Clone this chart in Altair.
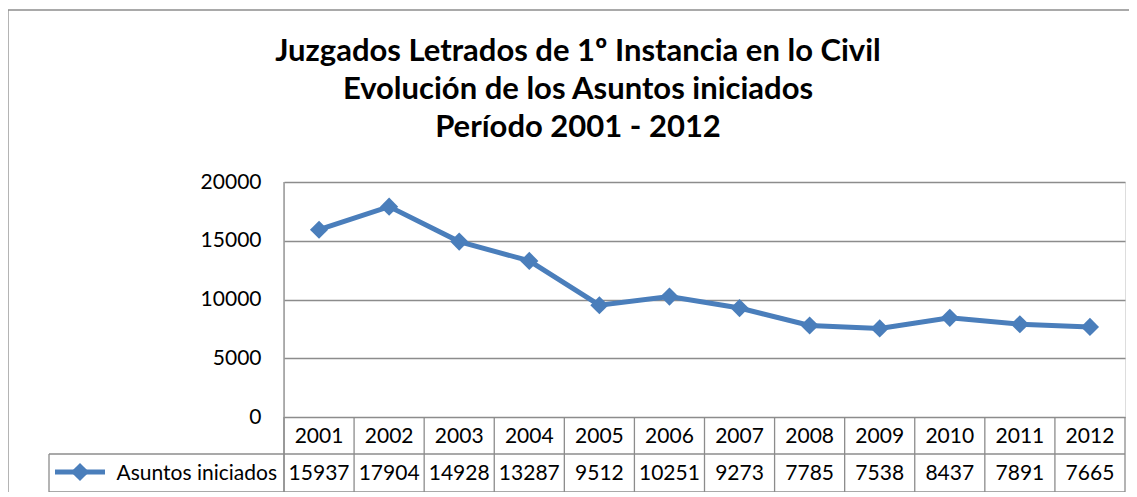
import altair as alt
import pandas as pd

years = ["2001", "2002", "2003", "2004", "2005", "2006", "2007", "2008", "2009", "2010", "2011", "2012"]
values = [15937, 17904, 14928, 13287, 9512, 10251, 9273, 7785, 7538, 8437, 7891, 7665]
series_name = "Asuntos iniciados"
title_lines = ["Juzgados Letrados de 1º Instancia en lo Civil",
               "Evolución de los Asuntos iniciados",
               "Período 2001 - 2012"]
y_ticks = [0, 5000, 10000, 15000, 20000]

df = pd.DataFrame({"year": years, "value": values})

W, H = 841, 235
BLUE = "#4a7ebb"
GRID = "#8c8c8c"
FONT = "Lato"
FS = 21

xenc = alt.X("year:O", scale=alt.Scale(paddingInner=0, paddingOuter=0), axis=None, sort=years)
yenc = alt.Y("value:Q", scale=alt.Scale(domain=[0, 20000], nice=False),
             axis=alt.Axis(values=y_ticks, format="d", grid=True, gridColor=GRID, gridWidth=1.3,
                           domain=False, ticks=False, labelPadding=23, labelFontSize=FS,
                           labelFont=FONT, labelColor="#000000", title=None))

base = alt.Chart(df)
one = alt.InlineData(values=[{"k": 1}])

line = base.mark_line(color=BLUE, strokeWidth=5).encode(x=xenc, y=yenc)
pts = base.mark_point(shape="diamond", filled=True, size=330, color=BLUE, opacity=1).encode(x=xenc, y="value:Q")

year_txt = base.mark_text(fontSize=FS, font=FONT, color="#000000", baseline="middle").encode(
    x=xenc, y=alt.value(255), text="year:N")
val_txt = base.mark_text(fontSize=FS, font=FONT, color="#000000", baseline="middle").encode(
    x=xenc, y=alt.value(292), text="value:Q")

vlines = base.mark_rule(color=GRID, strokeWidth=1.3).encode(
    x=alt.X("year:O", bandPosition=0, scale=alt.Scale(paddingInner=0, paddingOuter=0), axis=None, sort=years),
    y=alt.value(235), y2=alt.value(310))

def rule(**kw):
    return alt.Chart(one).mark_rule(color=GRID, strokeWidth=1.3).encode(**kw)

right_edge = rule(x=alt.value(W), y=alt.value(235), y2=alt.value(310))
left_edge = rule(x=alt.value(0), y=alt.value(0), y2=alt.value(310))
h1 = rule(x=alt.value(-235), x2=alt.value(W), y=alt.value(272))
h2 = rule(x=alt.value(-235), x2=alt.value(W), y=alt.value(310))
legend_left = rule(x=alt.value(-235), y=alt.value(272), y2=alt.value(310))
outer_top = rule(x=alt.value(-276), x2=alt.value(900), y=alt.value(-172))
outer_left = rule(x=alt.value(-276), y=alt.value(-172), y2=alt.value(400))

leg_line = alt.Chart(one).mark_rule(color=BLUE, strokeWidth=5).encode(
    x=alt.value(-229), x2=alt.value(-179), y=alt.value(290))
leg_pt = alt.Chart(one).mark_point(shape="diamond", filled=True, size=330, color=BLUE, opacity=1).encode(
    x=alt.value(-204), y=alt.value(290))
leg_txt = alt.Chart(pd.DataFrame({"name": [series_name]})).mark_text(
    fontSize=FS, font=FONT, color="#000000", align="right", baseline="middle").encode(
    x=alt.value(-7), y=alt.value(292), text="name:N")

title = alt.Chart(one).mark_text(
    fontSize=31, font=FONT, fontWeight="bold", color="#000000", align="center",
    baseline="alphabetic", lineHeight=38).encode(
    x=alt.value(294), y=alt.value(-121), text=alt.value(title_lines))

chart = alt.layer(
    vlines, right_edge, h1, h2, legend_left, left_edge, outer_top, outer_left,
    line, pts, year_txt, val_txt, leg_line, leg_pt, leg_txt, title
).properties(
    width=W, height=H,
    autosize=alt.AutoSizeParams(type="none"),
    padding={"left": 276, "top": 174, "right": 4, "bottom": 75},
).configure_view(stroke=None).configure(background="#ffffff")

chart.save("out.html", embed_options={"renderer": "svg", "actions": False})
